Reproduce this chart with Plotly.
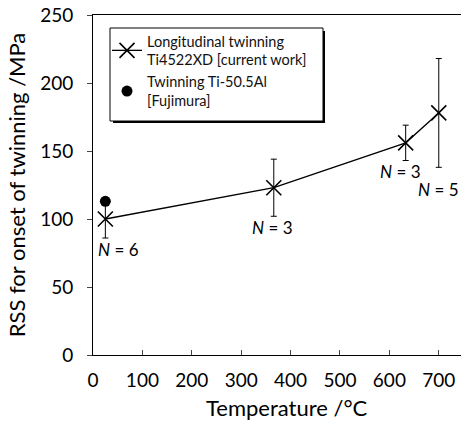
import plotly.graph_objects as go

# Longitudinal twinning in Ti4522XD (current work)
temp_c = [25, 366, 633, 700]
rss_mpa = [100, 123, 156, 178]
rss_err = [14, 21, 13, 40]
n_labels = ["6", "3", "3", "5"]

# Twinning in Ti-50.5Al (Fujimura)
fuj_temp = [25]
fuj_rss = [113]

x_ticks = [0, 100, 200, 300, 400, 500, 600, 700]
y_ticks = [0, 50, 100, 150, 200, 250]

FONT = "Lato, 'Open Sans', sans-serif"

# plot-area geometry in pixels, used to place paper-referenced items
L, R, T, B = 93, 461, 15, 355


def px_x(px):
    return (px - L) / (R - L)


def px_y(py):
    return (B - py) / (B - T)


fig = go.Figure()
fig.add_trace(go.Scatter(
    x=temp_c, y=rss_mpa, mode="lines+markers",
    name="Longitudinal twinning<br>Ti4522XD [current work]",
    line=dict(color="black", width=1.3),
    marker=dict(symbol="x-thin-open", size=15, color="black",
                line=dict(color="black", width=1.6)),
    error_y=dict(type="data", array=rss_err, visible=True,
                 color="black", thickness=1, width=3),
))
fig.add_trace(go.Scatter(
    x=fuj_temp, y=fuj_rss, mode="markers",
    name="Twinning Ti-50.5Al<br>[Fujimura]",
    marker=dict(symbol="circle", size=11, color="black"),
))

# sample-count labels under each error bar
label_offsets = [(13, -11), (-1, -11), (-5, -11), (0, -22)]
for t, r, e, n, (dx, dy) in zip(temp_c, rss_mpa, rss_err, n_labels, label_offsets):
    fig.add_annotation(
        x=t, y=r - e, text=f"<i>N</i> = {n}", showarrow=False,
        xshift=dx, yshift=dy, font=dict(family=FONT, size=17, color="black"),
    )

# x-axis title
fig.add_annotation(
    xref="paper", yref="paper", x=px_x(287), y=px_y(408),
    xanchor="center", yanchor="middle",
    text="Temperature /°C", showarrow=False,
    font=dict(family=FONT, size=22, color="black"),
)

# legend frame: drop shadow, then white box with a thin black border
fig.add_shape(
    type="rect", xref="paper", yref="paper",
    x0=px_x(113), x1=px_x(325), y0=px_y(123), y1=px_y(31),
    fillcolor="black", line=dict(width=0), layer="above",
)
fig.add_shape(
    type="rect", xref="paper", yref="paper",
    x0=px_x(110), x1=px_x(323), y0=px_y(121), y1=px_y(28),
    fillcolor="white", line=dict(color="black", width=1), layer="above",
)

fig.update_layout(
    width=461, height=423,
    margin=dict(l=L, r=461 - R, t=T, b=423 - B),
    paper_bgcolor="white", plot_bgcolor="white",
    font=dict(family=FONT, color="black"),
    showlegend=True,
    legend=dict(
        x=px_x(107), y=px_y(25), xanchor="left", yanchor="top",
        bgcolor="rgba(0,0,0,0)", borderwidth=0,
        font=dict(family=FONT, size=14.5, color="#111"),
        itemwidth=30, tracegroupgap=10,
    ),
    xaxis=dict(
        range=[0, 745], tickvals=x_ticks, ticks="inside", ticklen=5,
        showline=True, linecolor="black", linewidth=1, mirror=True,
        showgrid=False, zeroline=False, ticklabelstandoff=8,
        tickfont=dict(family=FONT, size=19),
    ),
    yaxis=dict(
        range=[0, 250], tickvals=y_ticks, ticks="outside", ticklen=5,
        showline=True, linecolor="black", linewidth=1,
        showgrid=False, zeroline=False, ticklabelstandoff=10,
        tickfont=dict(family=FONT, size=19),
        title=dict(text="RSS for onset of twinning /MPa", font=dict(family=FONT, size=22), standoff=8),
    ),
)

fig.write_html("out.html")
